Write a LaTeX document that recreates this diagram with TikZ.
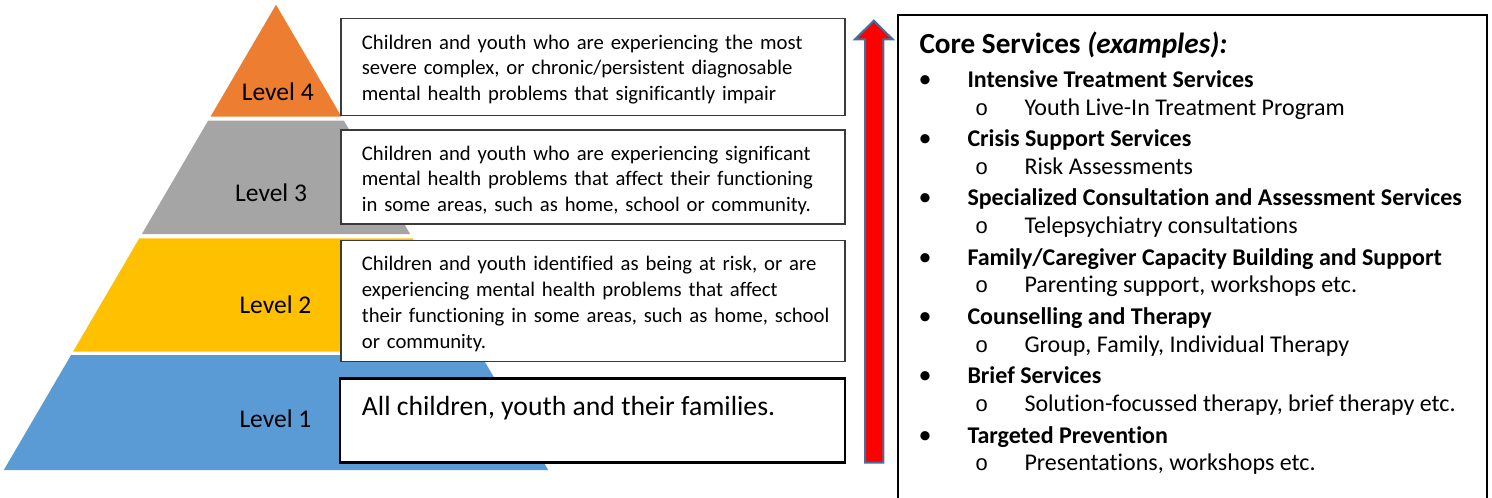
\documentclass[tikz,border=0pt]{standalone}
\usepackage{fontspec}
\setmainfont{Carlito}[Ligatures=NoCommon]
\newfontfamily\markfont{Liberation Mono}
\definecolor{lvlorange}{HTML}{ED7D31}
\definecolor{lvlgray}{HTML}{A5A5A5}
\definecolor{lvlyellow}{HTML}{FFC000}
\definecolor{lvlblue}{HTML}{5B9BD5}
\definecolor{arrowedge}{HTML}{41719C}
\definecolor{boxedge}{HTML}{3A3A3A}
\begin{document}
\begin{tikzpicture}[x=1pt,y=-1pt,
  lvl/.style={anchor=base west,inner sep=0pt,font=\fontsize{25.5}{30}\selectfont},
  descbox/.style={draw=boxedge,line width=1.3pt,fill=white},
  basebox/.style={draw=black,line width=2.8pt,fill=white},
  desctext/.style={anchor=base west,inner sep=0pt,align=left,text width=520pt,
    font=\fontsize{20.7}{25.8}\selectfont},
  basetext/.style={anchor=base west,inner sep=0pt,font=\fontsize{27.7}{32}\selectfont},
  corebox/.style={draw=black,line width=2pt},
  titletext/.style={anchor=base west,inner sep=0pt,font=\fontsize{29.2}{34}\selectfont\bfseries},
  maintext/.style={anchor=base west,inner sep=0pt,font=\fontsize{24}{29}\selectfont\bfseries},
  subtext/.style={anchor=base west,inner sep=0pt,font=\fontsize{24}{29}\selectfont},
  dotmark/.style={anchor=base,inner sep=0pt,font=\fontsize{26}{29}\selectfont},
  ringmark/.style={anchor=base,inner sep=0pt,font=\fontsize{22}{29}\selectfont\markfont},
  uparrow/.style={fill=red,draw=arrowedge,line width=2pt,line join=miter}
]
\useasboundingbox (0,0) rectangle (1492,498);

% pyramid layers (apex at x=276, side slope 0.585)
\fill[lvlorange] (276,4.7) -- (341.5,116.7) -- (210.5,116.7) -- cycle;
\fill[lvlgray]   (208.1,120.7) -- (343.9,120.7) -- (410.1,234) -- (141.9,234) -- cycle;
\fill[lvlyellow] (139.3,238.3) -- (412.7,238.3) -- (479,351.7) -- (73,351.7) -- cycle;
\fill[lvlblue]   (71.1,355) -- (480.9,355) -- (548.2,470) -- (3.8,470) -- cycle;

\node[lvl] (lvl4) at (241.7,100.7) {Level 4};
\node[lvl] (lvl3) at (235,201.7) {Level 3};
\node[lvl] (lvl2) at (239.3,313.3) {Level 2};
\node[lvl] (lvl1) at (239.3,427.3) {Level 1};

% description boxes
\draw[descbox] (341,18.3) rectangle (845,115.7);
\draw[descbox] (341,130) rectangle (845,224);
\draw[descbox] (341,240.7) rectangle (845,361.7);
\draw[basebox] (340,378.3) rectangle (845,462.3);

\node[desctext] (d4) at (361.7,49) {Children and youth who are experiencing the most\\
severe complex, or chronic/persistent diagnosable\\
mental health problems that significantly impair};
\begin{scope}
  \clip (341,130) rectangle (845,215);
  \node[desctext] (d3) at (361.7,160) {Children and youth who are experiencing significant\\
  mental health problems that affect their functioning\\
  in some areas, such as home, school or community.};
\end{scope}
\node[desctext] (d2) at (361.7,270.7) {Children and youth identified as being at risk, or are\\
experiencing mental health problems that affect\\
their functioning in some areas, such as home, school\\
or community.};
\node[basetext] (d1) at (361.7,415) {All children, youth and their families.};

% upward arrow
\draw[uparrow] (865,462.7) -- (865,39.3) -- (855,39.3) -- (873.8,20.7)
  -- (892.7,39.3) -- (883.3,39.3) -- (883.3,462.7) -- cycle;

% core services panel (runs off the bottom edge)
\draw[corebox] (898.3,502) -- (898.3,15) -- (1486.7,15) -- (1486.7,502);
\node[titletext] (title) at (919.3,53.3) {Core Services \textit{(examples):}};

\foreach \main/\sub [count=\i] in {
  {Intensive Treatment Services}/{Youth Live-In Treatment Program},
  {Crisis Support Services}/{Risk Assessments},
  {Specialized Consultation and Assessment Services}/{Telepsychiatry consultations},
  {Family/Caregiver Capacity Building and Support}/{Parenting support, workshops etc.},
  {Counselling and Therapy}/{Group, Family, Individual Therapy},
  {Brief Services}/{Solution-focussed therapy, brief therapy etc.},
  {Targeted Prevention}/{Presentations, workshops etc.}} {
  \pgfmathsetmacro{\yb}{87.3+59.3*(\i-1)}
  \pgfmathsetmacro{\ys}{\yb+27.7}
  \node[dotmark] (dot\i) at (925,\yb) {\textbullet};
  \node[maintext] (main\i) at (967.3,\yb) {\main};
  \node[ringmark] (ring\i) at (981.7,\ys) {o};
  \node[subtext] (sub\i) at (1024.3,\ys) {\sub};
}
\end{tikzpicture}
\end{document}
